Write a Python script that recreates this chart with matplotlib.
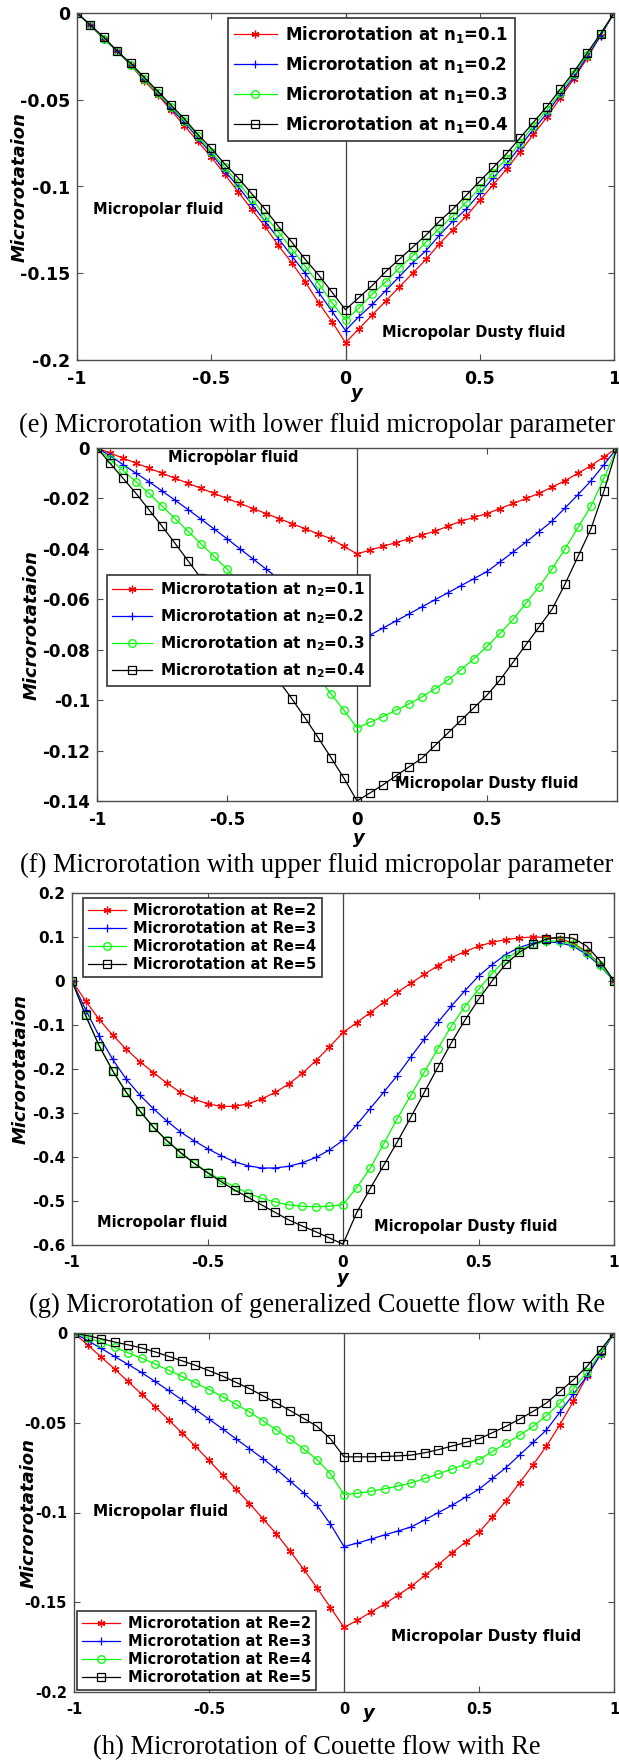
import matplotlib.pyplot as plt
import numpy as np
from matplotlib.ticker import FuncFormatter

plt.rcParams['font.family'] = 'DejaVu Sans'
plt.rcParams['font.weight'] = 'bold'
plt.rcParams['mathtext.fontset'] = 'dejavusans'
plt.rcParams['mathtext.default'] = 'bf'

# sample positions across the channel, y = -1 .. 1
y_pos = np.linspace(-1, 1, 41)

# (e) lower fluid micropolar parameter n1
e_labels = ['Microrotation at n$_1$=0.1', 'Microrotation at n$_1$=0.2',
            'Microrotation at n$_1$=0.3', 'Microrotation at n$_1$=0.4']
e_n1_01 = [0, -0.007, -0.015, -0.022, -0.030, -0.039, -0.047, -0.056, -0.065, -0.074, -0.083,
           -0.093, -0.103, -0.113, -0.123, -0.134, -0.144, -0.155, -0.167, -0.178, -0.190,
           -0.182, -0.174, -0.166, -0.158, -0.150, -0.142, -0.133, -0.125, -0.117, -0.108,
           -0.099, -0.090, -0.080, -0.070, -0.060, -0.049, -0.038, -0.026, -0.013, 0]
e_n1_02 = [0, -0.007, -0.015, -0.022, -0.030, -0.038, -0.046, -0.055, -0.063, -0.072, -0.081,
           -0.091, -0.100, -0.110, -0.120, -0.130, -0.140, -0.150, -0.161, -0.172, -0.183,
           -0.175, -0.168, -0.160, -0.152, -0.144, -0.137, -0.128, -0.120, -0.113, -0.104,
           -0.095, -0.087, -0.077, -0.067, -0.058, -0.047, -0.037, -0.025, -0.013, 0]
e_n1_03 = [0, -0.007, -0.015, -0.022, -0.030, -0.038, -0.046, -0.054, -0.062, -0.071, -0.080,
           -0.089, -0.098, -0.107, -0.117, -0.126, -0.136, -0.146, -0.156, -0.167, -0.177,
           -0.170, -0.162, -0.155, -0.147, -0.140, -0.132, -0.124, -0.117, -0.109, -0.101,
           -0.092, -0.084, -0.075, -0.065, -0.056, -0.046, -0.035, -0.024, -0.012, 0]
e_n1_04 = [0, -0.007, -0.014, -0.022, -0.029, -0.037, -0.045, -0.053, -0.061, -0.070, -0.078,
           -0.087, -0.095, -0.104, -0.113, -0.123, -0.132, -0.142, -0.151, -0.161, -0.171,
           -0.164, -0.157, -0.149, -0.142, -0.135, -0.128, -0.120, -0.113, -0.105, -0.097,
           -0.089, -0.081, -0.072, -0.063, -0.054, -0.044, -0.034, -0.023, -0.012, 0]

# (f) upper fluid micropolar parameter n2
f_labels = ['Microrotation at n$_2$=0.1', 'Microrotation at n$_2$=0.2',
            'Microrotation at n$_2$=0.3', 'Microrotation at n$_2$=0.4']
f_n2_01 = [0, -0.002, -0.004, -0.006, -0.008, -0.010, -0.012, -0.014, -0.016, -0.018, -0.020,
           -0.022, -0.024, -0.026, -0.028, -0.030, -0.032, -0.034, -0.036, -0.039, -0.042,
           -0.0405, -0.039, -0.0375, -0.036, -0.0345, -0.033, -0.031, -0.029, -0.0275, -0.026,
           -0.024, -0.022, -0.020, -0.018, -0.0155, -0.013, -0.010, -0.007, -0.0035, 0]
f_n2_02 = [0, -0.003, -0.0066, -0.010, -0.0134, -0.017, -0.0207, -0.0244, -0.0282, -0.0321, -0.036,
           -0.040, -0.044, -0.048, -0.052, -0.056, -0.060, -0.064, -0.068, -0.0725, -0.077,
           -0.0742, -0.0714, -0.0686, -0.0658, -0.063, -0.0602, -0.0574, -0.0546, -0.0518, -0.049,
           -0.0452, -0.0413, -0.0373, -0.0332, -0.029, -0.0238, -0.0185, -0.013, -0.0066, 0]
f_n2_03 = [0, -0.0044, -0.0089, -0.0134, -0.018, -0.023, -0.028, -0.033, -0.038, -0.043, -0.048,
           -0.054, -0.060, -0.066, -0.072, -0.078, -0.0845, -0.091, -0.0975, -0.104, -0.111,
           -0.1088, -0.1065, -0.104, -0.1015, -0.0987, -0.0955, -0.092, -0.088, -0.0835, -0.0787,
           -0.0735, -0.068, -0.0615, -0.055, -0.048, -0.040, -0.0315, -0.023, -0.012, 0]
f_n2_04 = [0, -0.006, -0.012, -0.018, -0.0245, -0.031, -0.0378, -0.0447, -0.0517, -0.0585, -0.0653,
           -0.072, -0.0788, -0.0856, -0.0925, -0.0995, -0.107, -0.1148, -0.1228, -0.131, -0.140,
           -0.1368, -0.1336, -0.130, -0.1265, -0.123, -0.118, -0.113, -0.108, -0.103, -0.098,
           -0.092, -0.085, -0.078, -0.071, -0.064, -0.054, -0.043, -0.032, -0.017, 0]

# (g) generalized Couette flow, Reynolds number
g_labels = ['Microrotation at Re=2', 'Microrotation at Re=3',
            'Microrotation at Re=4', 'Microrotation at Re=5']
g_re2 = [0, -0.045, -0.087, -0.123, -0.155, -0.183, -0.208, -0.232, -0.253, -0.268, -0.279,
         -0.285, -0.285, -0.279, -0.268, -0.253, -0.234, -0.210, -0.181, -0.150, -0.117,
         -0.095, -0.072, -0.048, -0.026, -0.005, 0.015, 0.035, 0.053, 0.067, 0.079,
         0.088, 0.094, 0.098, 0.100, 0.099, 0.096, 0.086, 0.066, 0.037, 0]
g_re3 = [0, -0.065, -0.125, -0.178, -0.223, -0.259, -0.290, -0.318, -0.343, -0.363, -0.381,
         -0.397, -0.411, -0.420, -0.425, -0.425, -0.421, -0.413, -0.401, -0.384, -0.362,
         -0.327, -0.290, -0.253, -0.215, -0.173, -0.132, -0.094, -0.057, -0.022, 0.011,
         0.037, 0.060, 0.076, 0.086, 0.089, 0.087, 0.079, 0.060, 0.034, 0]
g_re4 = [0, -0.078, -0.147, -0.204, -0.253, -0.295, -0.332, -0.362, -0.389, -0.413, -0.434,
         -0.452, -0.468, -0.482, -0.494, -0.502, -0.509, -0.512, -0.513, -0.512, -0.508,
         -0.470, -0.426, -0.370, -0.313, -0.260, -0.207, -0.154, -0.102, -0.058, -0.019,
         0.017, 0.049, 0.070, 0.083, 0.090, 0.091, 0.083, 0.064, 0.036, 0]
g_re5 = [0, -0.078, -0.147, -0.204, -0.253, -0.295, -0.332, -0.363, -0.390, -0.414, -0.436,
         -0.456, -0.475, -0.492, -0.509, -0.526, -0.543, -0.557, -0.570, -0.584, -0.598,
         -0.527, -0.472, -0.419, -0.366, -0.310, -0.253, -0.196, -0.140, -0.089, -0.042,
         0.000, 0.038, 0.065, 0.083, 0.095, 0.100, 0.097, 0.079, 0.045, 0]

# (h) Couette flow, Reynolds number
h_labels = g_labels
h_re2 = [0, -0.0066, -0.0133, -0.020, -0.027, -0.034, -0.041, -0.0483, -0.0557, -0.0632, -0.071,
         -0.079, -0.087, -0.095, -0.1035, -0.112, -0.1215, -0.1315, -0.142, -0.153, -0.164,
         -0.160, -0.1555, -0.151, -0.146, -0.141, -0.135, -0.129, -0.1225, -0.1165, -0.111,
         -0.1025, -0.0935, -0.0835, -0.0735, -0.063, -0.051, -0.038, -0.024, -0.012, 0]
h_re3 = [0, -0.0042, -0.0085, -0.013, -0.0175, -0.022, -0.027, -0.032, -0.0373, -0.0426, -0.048,
         -0.0534, -0.059, -0.0645, -0.070, -0.076, -0.0825, -0.089, -0.096, -0.1065, -0.119,
         -0.117, -0.1148, -0.1125, -0.1103, -0.108, -0.104, -0.100, -0.096, -0.0915, -0.087,
         -0.081, -0.075, -0.068, -0.061, -0.054, -0.044, -0.034, -0.024, -0.012, 0]
h_re4 = [0, -0.0026, -0.0053, -0.008, -0.011, -0.014, -0.0173, -0.0207, -0.0242, -0.0278, -0.0315,
         -0.0355, -0.0397, -0.044, -0.049, -0.054, -0.059, -0.0645, -0.0705, -0.0785, -0.090,
         -0.0893, -0.0882, -0.0868, -0.0852, -0.0835, -0.081, -0.0785, -0.0757, -0.0732, -0.0705,
         -0.066, -0.0615, -0.057, -0.052, -0.046, -0.039, -0.031, -0.022, -0.011, 0]
h_re5 = [0, -0.0015, -0.0032, -0.005, -0.0066, -0.0083, -0.0105, -0.013, -0.0155, -0.018, -0.021,
         -0.024, -0.0275, -0.031, -0.035, -0.039, -0.0432, -0.0475, -0.052, -0.059, -0.069,
         -0.069, -0.069, -0.0688, -0.0685, -0.068, -0.0667, -0.065, -0.063, -0.061, -0.059,
         -0.0555, -0.052, -0.048, -0.0437, -0.039, -0.0325, -0.026, -0.0186, -0.0095, 0]

captions = ['(e) Microrotation with lower fluid micropolar parameter',
            '(f) Microrotation with upper fluid micropolar parameter',
            '(g) Microrotation of generalized Couette flow with Re',
            '(h) Microrotation of Couette flow with Re']
ylabel = 'Microrotataion'

W, H = 619, 1761
fig = plt.figure(figsize=(W / 100, H / 100), dpi=100)


def px_axes(left, top, right, bottom):
    return fig.add_axes([left / W, 1 - bottom / H, (right - left) / W, (bottom - top) / H])


def fmt(v, pos):
    if abs(v) < 1e-9:
        return '0'
    return '%g' % v


styles = [('red', (6, 2, 0)), ('blue', '+'), ((0, 1, 0), 'o'), ('black', 's')]


def panel(ax, series, labels, ylim, yticks, xticks, tick_fs, leg_fs, leg_loc, leg_anchor,
          leg_space, notes, note_fs, ylab_x):
    for vals, lab, (c, m) in zip(series, labels, styles):
        ax.plot(y_pos, vals, color=c, marker=m, ms=5.5, mfc='none', mew=0.9, lw=0.9, label=lab)
    ax.axvline(0, color='0.25', lw=0.9, zorder=1)
    ax.set_xlim(-1, 1)
    ax.set_ylim(*ylim)
    ax.set_xticks(xticks)
    ax.set_yticks(yticks)
    ax.xaxis.set_major_formatter(FuncFormatter(fmt))
    ax.yaxis.set_major_formatter(FuncFormatter(fmt))
    ax.tick_params(direction='in', top=True, right=True, length=4.5, width=0.8,
                   color='0.3', labelsize=tick_fs, pad=5)
    ax.tick_params(axis='x', pad=7)
    for s in ax.spines.values():
        s.set_color('0.3')
        s.set_linewidth(1.0)
    for t in ax.get_xticklabels() + ax.get_yticklabels():
        t.set_fontweight('bold')
    ax.set_ylabel(ylabel, fontsize=13, fontweight='bold', style='italic')
    ax.yaxis.set_label_coords(ylab_x, 0.5)
    leg = ax.legend(loc=leg_loc, bbox_to_anchor=leg_anchor, borderaxespad=0, fontsize=leg_fs,
                    fancybox=False, edgecolor='0.2', framealpha=1, numpoints=1,
                    handlelength=2.6, handletextpad=0.5, labelspacing=leg_space,
                    borderpad=0.35)
    leg.get_frame().set_linewidth(1.2)
    for tx, ty, txt in notes:
        ax.text(tx, ty, txt, fontsize=note_fs, fontweight='bold', va='center', ha='left')


# (e)
ax_e = px_axes(77, 13, 614, 360)
panel(ax_e, [e_n1_01, e_n1_02, e_n1_03, e_n1_04], e_labels, (-0.2, 0),
      [-0.2, -0.15, -0.1, -0.05, 0], [-1, -0.5, 0, 0.5, 1], 12.5, 12,
      'upper left', (0.281, 0.986), 0.55,
      [(-0.94, -0.1135, 'Micropolar fluid'), (0.135, -0.184, 'Micropolar Dusty fluid')],
      10.5, (29 - 77) / 537)

# (f)
ax_f = px_axes(97, 448, 617, 801)
panel(ax_f, [f_n2_01, f_n2_02, f_n2_03, f_n2_04], f_labels, (-0.14, 0),
      [-0.14, -0.12, -0.1, -0.08, -0.06, -0.04, -0.02, 0], [-1, -0.5, 0, 0.5], 12, 11,
      'upper left', (0.019, 0.640), 0.55,
      [(-0.727, -0.0036, 'Micropolar fluid'), (0.146, -0.133, 'Micropolar Dusty fluid')],
      10.5, (41 - 97) / 520)

# (g)
ax_g = px_axes(72, 893, 614, 1245)
panel(ax_g, [g_re2, g_re3, g_re4, g_re5], g_labels, (-0.6, 0.2),
      [-0.6, -0.5, -0.4, -0.3, -0.2, -0.1, 0, 0.1, 0.2], [-1, -0.5, 0, 0.5, 1], 11, 10.5,
      'upper left', (0.020, 0.986), 0.2,
      [(-0.908, -0.548, 'Micropolar fluid'), (0.114, -0.559, 'Micropolar Dusty fluid')],
      10.5, (30 - 72) / 542)

# (h)
ax_h = px_axes(74, 1333, 614, 1692)
panel(ax_h, [h_re2, h_re3, h_re4, h_re5], h_labels, (-0.2, 0),
      [-0.2, -0.15, -0.1, -0.05, 0], [-1, -0.5, 0, 0.5, 1], 10.5, 10.5,
      'lower left', (0.006, 0.006), 0.2,
      [(-0.93, -0.0997, 'Micropolar fluid'), (0.174, -0.169, 'Micropolar Dusty fluid')],
      11, (38 - 74) / 540)

# x-axis label "y" for each panel (pixel positions)
for px, py in [(357, 393), (359, 838), (343, 1278), (369, 1713)]:
    fig.text(px / W, 1 - py / H, 'y', fontsize=13, fontweight='bold', style='italic',
             ha='center', va='center')

# captions, sized so the first one spans about 598 px like the original
cap_texts = []
for cy, cap in zip([425, 865, 1305, 1748], captions):
    cap_texts.append(fig.text(317 / W, 1 - cy / H, cap, fontsize=18, family='Liberation Serif',
                              fontweight='normal', ha='center', va='center'))
fig.canvas.draw()
width0 = cap_texts[0].get_window_extent().width
new_size = 18 * 598 / width0
for t in cap_texts:
    t.set_fontsize(new_size)

fig.savefig('out.png', dpi=100)
